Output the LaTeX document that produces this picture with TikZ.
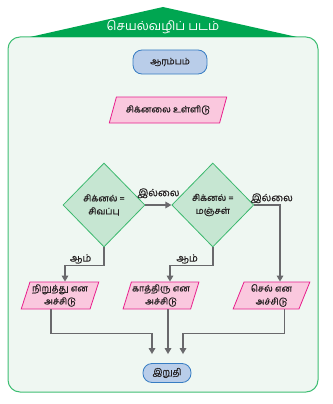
\documentclass[tikz,border=0pt]{standalone}
\usepackage{fontspec}
\newfontfamily\tamil[Script=Tamil, FakeBold=0.7]{Hind Madurai}
\newfontfamily\tamilthin[Script=Tamil]{Hind Madurai}
\usetikzlibrary{calc, positioning}
\usetikzlibrary{arrows.meta}
\usetikzlibrary{shapes.geometric}

\definecolor{titlegreen}{RGB}{0,166,81}
\definecolor{boxgreen}{RGB}{62,190,115}
\definecolor{boxfill}{RGB}{239,247,242}
\definecolor{dfill}{RGB}{198,230,210}
\definecolor{dline}{RGB}{60,185,110}
\definecolor{sfill}{RGB}{185,205,233}
\definecolor{sline}{RGB}{55,125,195}
\definecolor{pfill}{RGB}{250,200,222}
\definecolor{pline}{RGB}{232,30,140}
\definecolor{flowgray}{RGB}{105,105,108}
\definecolor{inkgray}{RGB}{35,31,32}

\tikzset{
  txt/.style={font=\tamil\fontsize{9}{13}\selectfont, align=center, text=inkgray},
  startstop/.style={txt, draw=sline, fill=sfill, line width=0.8pt, rounded corners=9pt, inner sep=0pt},
  iobox/.style={txt, trapezium, trapezium stretches=true, draw=pline, fill=pfill, line width=0.8pt, inner sep=0pt},
  decision/.style={txt, diamond, draw=dline, fill=dfill, line width=0.8pt, inner sep=0pt,
    minimum width=82pt, minimum height=84pt},
  flow/.style={draw=flowgray, line width=1.6pt, -{Triangle[length=6pt, width=6.5pt]}},
  lbl/.style={txt, font=\tamil\fontsize{10}{11}\selectfont, inner sep=1pt}
}

\begin{document}
\begin{tikzpicture}[x=1pt, y=1pt]
\useasboundingbox (0,0) rectangle (332,-404);

% frame and title
\draw[boxgreen, fill=boxfill, line width=1pt, rounded corners=12pt] (8,-37) rectangle (318,-392);
\fill[titlegreen] (30,-37) -- (163,-7) -- (297,-37) -- cycle;
\node[font=\tamilthin\fontsize{12.5}{14}\selectfont, text=white] (title) at (163,-27) {செயல்வழிப் படம்};

% boxes
\node[startstop, minimum width=74pt, minimum height=24pt] (start) at (170,-62) {ஆரம்பம்};
\node[iobox, trapezium left angle=58, trapezium right angle=122,
  minimum width=118pt, minimum height=26pt] (input) at (168,-110) {சிக்னலை உள்ளிடு};

\node[decision] (red) at (104,-205) {சிக்னல் =\\சிவப்பு};
\node[decision, right=26pt of red] (yellow) {சிக்னல் =\\மஞ்சள்};

\node[iobox, trapezium left angle=70, trapezium right angle=110,
  minimum width=78pt, minimum height=27pt] (stop) at (60,-295.5) {நிறுத்து என\\அச்சிடு};
\node[iobox, trapezium left angle=70, trapezium right angle=110,
  minimum width=76pt, minimum height=27pt] (wait) at (161,-295.5) {காத்திரு என\\அச்சிடு};
\node[iobox, trapezium left angle=70, trapezium right angle=110,
  minimum width=77pt, minimum height=27pt] (go) at (271.5,-295.5) {செல் என\\அச்சிடு};

\node[startstop, minimum width=48pt, minimum height=19pt] (finish) at (167,-373) {இறுதி};

% loose ends above the last box
\coordinate (in1) at ($(finish.north)+(-15,9)$);
\coordinate (in2) at ($(finish.north)+(1,9)$);
\coordinate (in3) at ($(finish.north)+(16,9)$);

% connectors
\draw[flow] (red) -- (yellow) node[midway, above=5pt, lbl] {இல்லை};
\draw[flow] (yellow.east) -| node[pos=0.34, above, lbl] {இல்லை} ([xshift=8.5pt]go.north);
\draw[flow] (red.south) -- ++(0,-18) -| node[pos=0.3, above, lbl] {ஆம்} ([xshift=5pt]stop.north);
\draw[flow] (yellow.south) -- ++(0,-18) -| node[pos=0.3, above, lbl] {ஆம்} ([xshift=9pt]wait.north);

\draw[flow] ([xshift=-9pt]stop.south) -- ++(0,-24) -| (in1);
\draw[flow] (wait.south -| in2) -- (in2);
\draw[flow] ([xshift=13pt]go.south) -- ++(0,-24) -| (in3);
\end{tikzpicture}
\end{document}
